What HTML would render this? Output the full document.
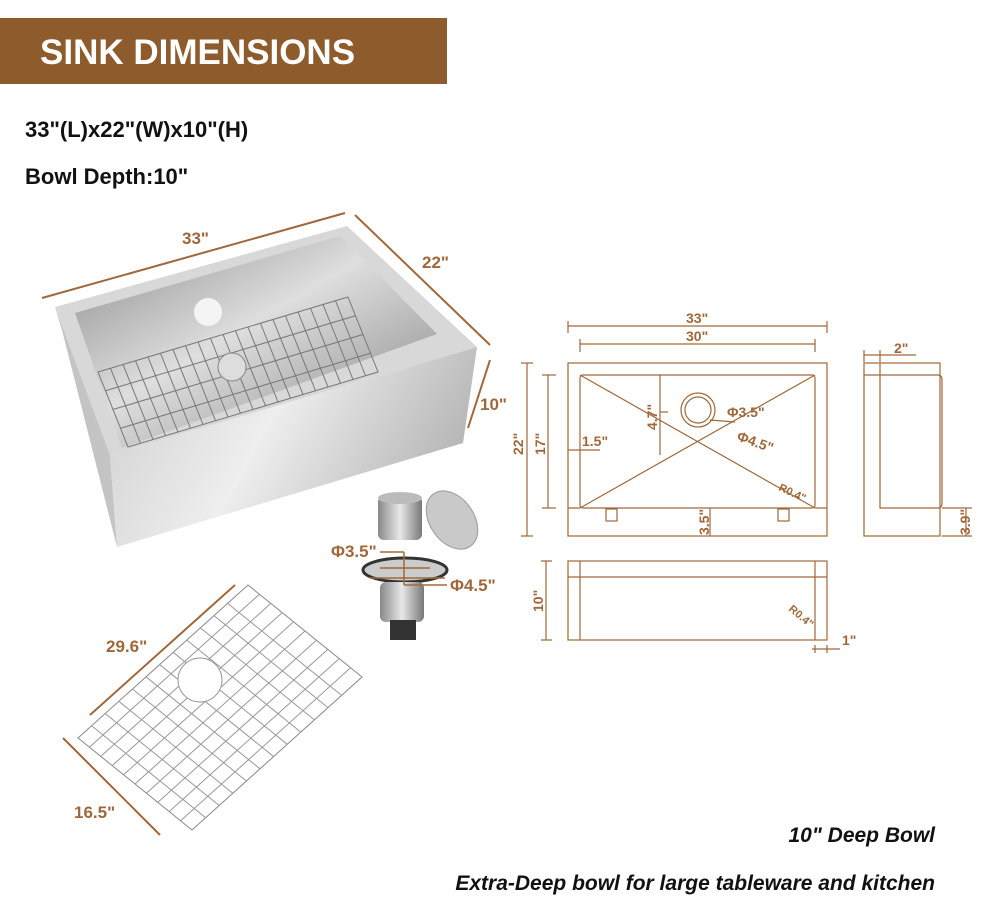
<!DOCTYPE html>
<html><head><meta charset="utf-8"><style>
body{margin:0;background:#fff;}
svg{display:block}
</style></head><body>
<svg width="990" height="916" viewBox="0 0 990 916" xmlns="http://www.w3.org/2000/svg" font-family="Liberation Sans, sans-serif" font-weight="bold">
<defs>
<linearGradient id="ap" x1="0" y1="0" x2="1" y2="0.3"><stop offset="0" stop-color="#cfcfcf"/><stop offset="0.5" stop-color="#eeeeee"/><stop offset="1" stop-color="#b8b8b8"/></linearGradient>
<linearGradient id="bs" x1="0" y1="0" x2="1" y2="1"><stop offset="0" stop-color="#8a8a8a"/><stop offset="0.45" stop-color="#dedede"/><stop offset="1" stop-color="#808080"/></linearGradient>
<linearGradient id="cy" x1="0" y1="0" x2="1" y2="0"><stop offset="0" stop-color="#888"/><stop offset="0.5" stop-color="#e8e8e8"/><stop offset="1" stop-color="#777"/></linearGradient>
</defs>
<rect x="0" y="18" width="447" height="66" fill="#8e5b2d"/>
<text x="40" y="64" fill="#fff" font-size="35">SINK DIMENSIONS</text>
<text x="25" y="137" fill="#111" font-size="22">33"(L)x22"(W)x10"(H)</text>
<text x="25" y="184" fill="#111" font-size="22">Bowl Depth:10"</text>

<!-- sink photo -->
<polygon points="55,307 347,226 477,347 110,455" fill="#d8d8d8"/>
<polygon points="75,313 340,236 437,334 122,448" fill="url(#bs)"/>
<polygon points="55,307 110,455 117,547 62,330" fill="#c4c4c4"/>
<polygon points="110,455 477,347 463,443 117,547" fill="url(#ap)"/>
<g transform="matrix(250 -75 30 75 98 372)" fill="none" stroke="#777" stroke-width="1">
<rect x="0" y="0" width="1" height="1" vector-effect="non-scaling-stroke"/>
<path vector-effect="non-scaling-stroke" d="M0.05 0V1M0.1 0V1M0.15 0V1M0.2 0V1M0.25 0V1M0.3 0V1M0.35 0V1M0.4 0V1M0.45 0V1M0.5 0V1M0.55 0V1M0.6 0V1M0.65 0V1M0.7 0V1M0.75 0V1M0.8 0V1M0.85 0V1M0.9 0V1M0.95 0V1M0 0.25H1M0 0.5H1M0 0.75H1"/>
</g>
<circle cx="232" cy="367" r="14" fill="#ddd" stroke="#888"/>
<circle cx="208" cy="312" r="14" fill="#f4f4f4"/>
<g stroke="#a0683a" stroke-width="2" fill="none">
<line x1="42" y1="298" x2="345" y2="213"/><line x1="355" y1="215" x2="490" y2="345"/><line x1="490" y1="360" x2="468" y2="428"/>
</g>
<g fill="#a0683a" font-size="17">
<text x="182" y="244">33"</text><text x="422" y="268">22"</text><text x="480" y="410">10"</text>
</g>

<!-- strainer -->
<rect x="378" y="496" width="44" height="44" rx="6" fill="url(#cy)"/>
<ellipse cx="400" cy="498" rx="22" ry="6" fill="#bbb"/>
<ellipse cx="452" cy="520" rx="22" ry="32" transform="rotate(-35 452 520)" fill="#c9c9c9" stroke="#999"/>
<ellipse cx="405" cy="570" rx="42" ry="12" fill="#ccc" stroke="#333" stroke-width="3"/>
<rect x="380" y="582" width="44" height="40" rx="6" fill="url(#cy)"/>
<rect x="390" y="620" width="26" height="20" fill="#333"/>
<g stroke="#a0683a" stroke-width="1.5"><line x1="380" y1="568" x2="430" y2="568"/><line x1="370" y1="578" x2="445" y2="578"/><line x1="380" y1="552" x2="404" y2="552"/><line x1="404" y1="552" x2="404" y2="585"/><line x1="404" y1="585" x2="447" y2="585"/></g>
<text x="331" y="557" fill="#a0683a" font-size="17">Φ3.5"</text>
<text x="450" y="591" fill="#a0683a" font-size="17">Φ4.5"</text>

<!-- grid -->
<g transform="matrix(170 -153 114 92 78 738)" fill="none" stroke="#999" stroke-width="1">
<rect x="0" y="0" width="1" height="1" vector-effect="non-scaling-stroke" stroke="#888"/>
<path vector-effect="non-scaling-stroke" d="M0.08 0V1M0.16 0V1M0.24 0V1M0.32 0V1M0.40 0V1M0.48 0V1M0.56 0V1M0.64 0V1M0.72 0V1M0.80 0V1M0.88 0V1M0 0.1H1M0 0.2H1M0 0.3H1M0 0.4H1M0 0.5H1M0 0.6H1M0 0.7H1M0 0.8H1M0 0.9H1"/>
</g>
<circle cx="200" cy="680" r="22" fill="#fff" stroke="#999"/>
<g stroke="#a0683a" stroke-width="2"><line x1="63" y1="738" x2="160" y2="835"/><line x1="90" y1="715" x2="235" y2="585"/></g>
<text x="106" y="652" fill="#a0683a" font-size="17">29.6"</text>
<text x="74" y="818" fill="#a0683a" font-size="17">16.5"</text>

<!-- technical drawings -->
<g stroke="#a0683a" stroke-width="1.2" fill="none">
<line x1="568" y1="326" x2="827" y2="326"/><line x1="568" y1="321" x2="568" y2="333"/><line x1="827" y1="321" x2="827" y2="333"/>
<line x1="580" y1="344" x2="815" y2="344"/><line x1="580" y1="339" x2="580" y2="352"/><line x1="815" y1="339" x2="815" y2="352"/>
<rect x="568" y="363" width="259" height="173"/>
<rect x="580" y="375" width="235" height="133" rx="3"/>
<path d="M568 508H580M815 508H827"/>
<rect x="606" y="509" width="11" height="12"/><rect x="778" y="509" width="11" height="12"/>
<line x1="580" y1="375" x2="815" y2="508"/><line x1="815" y1="375" x2="580" y2="508"/>
<circle cx="698" cy="410" r="17"/><circle cx="698" cy="410" r="13"/>
<line x1="660" y1="375" x2="660" y2="455"/><line x1="660" y1="412" x2="668" y2="412"/>
<line x1="568" y1="450" x2="600" y2="450"/>
<line x1="710" y1="420" x2="735" y2="422"/>
<line x1="710" y1="508" x2="710" y2="536"/>
<line x1="527" y1="363" x2="527" y2="536"/><line x1="521" y1="363" x2="533" y2="363"/><line x1="521" y1="536" x2="533" y2="536"/>
<line x1="548" y1="375" x2="548" y2="508"/><line x1="542" y1="375" x2="556" y2="375"/><line x1="542" y1="508" x2="556" y2="508"/>
<rect x="864" y="363" width="76" height="173"/>
<path d="M864 375H938Q942 375 942 380V503Q942 508 938 508H880V363"/>
<path d="M864 355H916M864 350V362M880 350V362"/>
<path d="M942 508H972M942 536H972M966 508V536"/>
<rect x="568" y="561" width="259" height="79"/>
<path d="M568 577H827M580 561V640M815 561V640"/>
<path d="M541 561H552M541 640H552M546 561V640"/>
<path d="M815 645V653M827 645V653M812 649H840"/>
</g>
<g fill="#a0683a" font-size="14">
<text x="686" y="323">33"</text><text x="686" y="341">30"</text>
<text x="582" y="446">1.5"</text>
<text x="727" y="417">Φ3.5"</text>
<text x="736" y="440" transform="rotate(20 736 440)">Φ4.5"</text>
<text x="778" y="490" transform="rotate(25 778 490)" font-size="11">R0.4"</text>
<text x="788" y="610" transform="rotate(40 788 610)" font-size="11">R0.4"</text>
<text x="894" y="353">2"</text>
<text x="842" y="645">1"</text>
<text transform="translate(523 455) rotate(-90)">22"</text>
<text transform="translate(545 455) rotate(-90)">17"</text>
<text transform="translate(657 430) rotate(-90)">4.7"</text>
<text transform="translate(709 535) rotate(-90)">3.5"</text>
<text transform="translate(970 535) rotate(-90)">3.9"</text>
<text transform="translate(543 612) rotate(-90)">10"</text>
</g>

<text x="935" y="842" text-anchor="end" font-size="21" font-style="italic" fill="#111">10" Deep Bowl</text>
<text x="935" y="890" text-anchor="end" font-size="21" font-style="italic" fill="#111">Extra-Deep bowl for large tableware and kitchen</text>
</svg>
</body></html>
